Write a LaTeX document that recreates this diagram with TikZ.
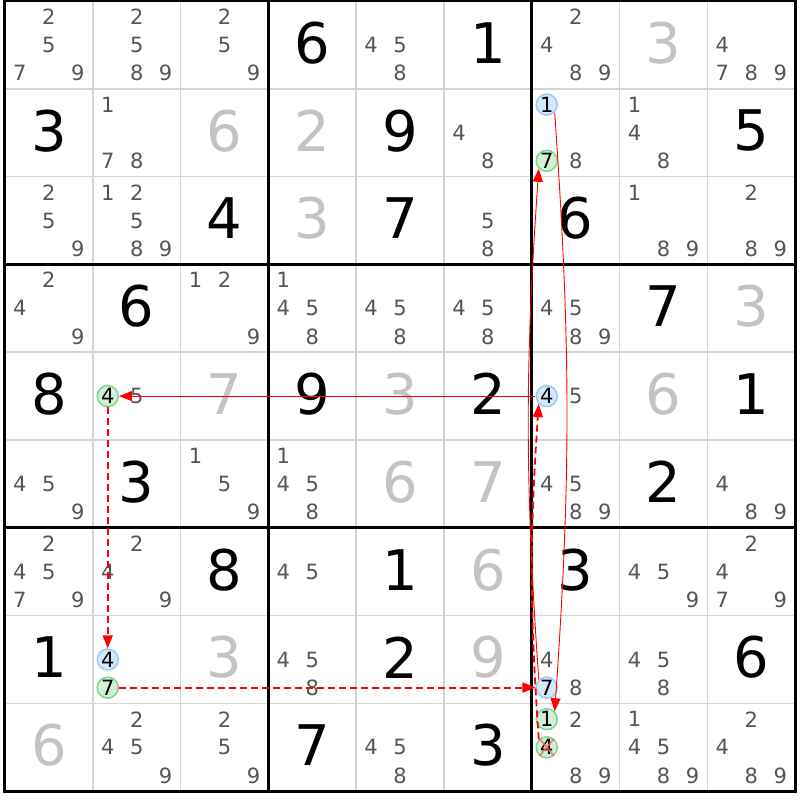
\documentclass[tikz,border=0pt]{standalone}
\usepackage{fontspec}
\setmainfont{DejaVu Sans}
\usetikzlibrary{arrows.meta}

\definecolor{candgray}{HTML}{555555}
\definecolor{solvedgray}{HTML}{C3C3C3}
\definecolor{gridgray}{HTML}{D4D4D4}
\definecolor{bluefill}{HTML}{D5E8FB}
\definecolor{bluedraw}{HTML}{9CCBF7}
\definecolor{greenfill}{HTML}{D2F0D7}
\definecolor{greendraw}{HTML}{7FD68E}

\begin{document}
\begin{tikzpicture}[x=87.8pt, y=-87.8pt, >={Triangle[length=13pt,width=10pt]},
  given/.style={font=\fontsize{56}{56}\selectfont, yshift=2pt},
  solved/.style={given, text=solvedgray},
  cand/.style={font=\fontsize{21}{21}\selectfont, text=candgray, inner sep=0pt},
  bluepick/.style={circle, draw=bluedraw, fill=bluefill, line width=1.5pt, minimum size=21pt, inner sep=0pt, font=\fontsize{21}{21}\selectfont},
  greenpick/.style={bluepick, draw=greendraw, fill=greenfill},
  thinline/.style={gridgray, line width=1.5pt},
  boxline/.style={black, line width=3pt},
  link/.style={red, line width=0.9pt},
  linkdash/.style={red, line width=1.8pt, dash pattern=on 7pt off 4pt},
  cross/.style={red!60, line width=1.8pt, opacity=0.8}]

\useasboundingbox[fill=white] (-5pt,1pt) rectangle (795pt,-799pt);

% La grille
\foreach \i in {1,...,8} {
\draw[thinline] (\i,0) -- (\i,9);
\draw[thinline] (0,\i) -- (9,\i);
}
\foreach \i in {3,6} {
\draw[boxline] (\i,0) -- (\i,9);
\draw[boxline] (0,\i) -- (9,\i);
}
\draw[boxline] (0,0) rectangle (9,9);

% Les chiffres donnés
\foreach \r/\c/\v in {1/4/6, 1/6/1, 2/1/3, 2/5/9, 2/9/5, 3/3/4, 3/5/7, 3/7/6,
  4/2/6, 4/8/7, 5/1/8, 5/4/9, 5/6/2, 5/9/1, 6/2/3, 6/8/2, 7/3/8, 7/5/1, 7/7/3,
  8/1/1, 8/5/2, 8/9/6, 9/4/7, 9/6/3}
\node[given] (g\r\c) at (\c-0.5,\r-0.5) {\v};

% Les chiffres trouvés
\foreach \r/\c/\v in {1/8/3, 2/3/6, 2/4/2, 3/4/3, 4/9/3, 5/3/7, 5/5/3, 5/8/6,
  6/5/6, 6/6/7, 7/6/6, 8/3/3, 8/6/9, 9/1/6}
\node[solved] (g\r\c) at (\c-0.5,\r-0.5) {\v};

% Les candidats
\foreach \r/\c/\list in {1/1/{2,5,7,9}, 1/2/{2,5,8,9}, 1/3/{2,5,9}, 1/5/{4,5,8}, 1/7/{2,4,8,9}, 1/9/{4,7,8,9},
  2/2/{1,7,8}, 2/6/{4,8}, 2/7/{8}, 2/8/{1,4,8},
  3/1/{2,5,9}, 3/2/{1,2,5,8,9}, 3/6/{5,8}, 3/8/{1,8,9}, 3/9/{2,8,9},
  4/1/{2,4,9}, 4/3/{1,2,9}, 4/4/{1,4,5,8}, 4/5/{4,5,8}, 4/6/{4,5,8}, 4/7/{4,5,8,9},
  5/2/{5}, 5/7/{5},
  6/1/{4,5,9}, 6/3/{1,5,9}, 6/4/{1,4,5,8}, 6/7/{4,5,8,9}, 6/9/{4,8,9},
  7/1/{2,4,5,7,9}, 7/2/{2,4,9}, 7/4/{4,5}, 7/8/{4,5,9}, 7/9/{2,4,7,9},
  8/4/{4,5,8}, 8/7/{4,8}, 8/8/{4,5,8},
  9/2/{2,4,5,9}, 9/3/{2,5,9}, 9/5/{4,5,8}, 9/7/{2,8,9}, 9/8/{1,4,5,8,9}, 9/9/{2,4,8,9}} {
\foreach \d in \list {
\node[cand] (p\r\c\d) at ({\c-0.5+0.33*(mod(\d-1,3)-1)},{\r-0.5+0.32*(int((\d-1)/3)-1)}) {\d};
}
}

% Les candidats entourés
\foreach \r/\c/\d/\s in {2/7/1/bluepick, 2/7/7/greenpick, 5/2/4/greenpick, 5/7/4/bluepick,
  8/2/4/bluepick, 8/2/7/greenpick, 8/7/7/bluepick, 9/7/1/greenpick, 9/7/4/greenpick}
\node[\s] (p\r\c\d) at ({\c-0.5+0.33*(mod(\d-1,3)-1)},{\r-0.5+0.32*(int((\d-1)/3)-1)}) {\d};

% Le candidat éliminé
\draw[cross] (p974.50) -- (p974.230) (p974.130) -- (p974.-50);

% La chaîne
\draw[link, ->] (p574) -- (p524);
\draw[linkdash, ->] (p524) -- (p824);
\draw[linkdash, ->] (p827) -- (p877);
\draw[link, ->] (p877.135) to[bend left=4] (p277.225);
\draw[linkdash, ->] (p974.135) to[bend left=4] (p574.225);
\draw[link, ->] (p271.-45) to[bend left=4] (p971.45);

\end{tikzpicture}
\end{document}
